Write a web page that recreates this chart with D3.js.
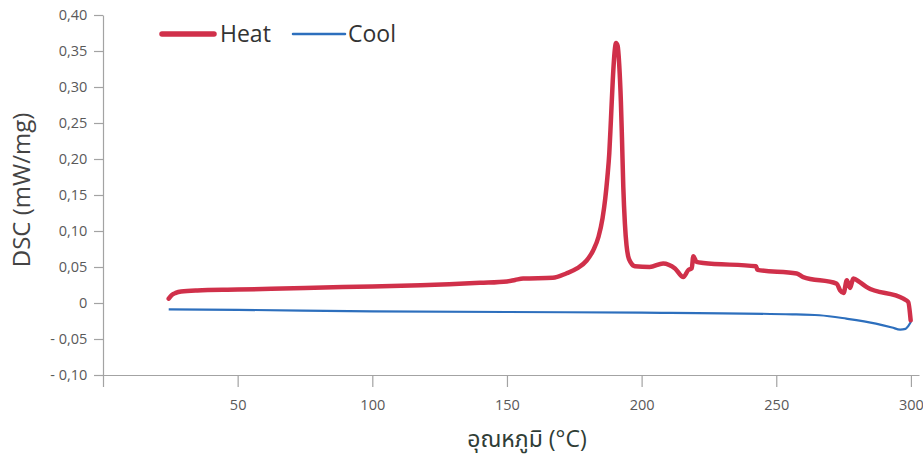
<!DOCTYPE html>
<html>
<head>
<meta charset="utf-8">
<script src="https://cdn.jsdelivr.net/npm/d3@7"></script>
<style>
    body { margin: 0; background: #fff; }
    svg text { font-family: "Open Sans", "Noto Sans", "Noto Sans Thai", sans-serif; }
</style>
</head>
<body>
<div id="chart"></div>
<script>
// Heat curve, temperature (°C) and DSC (mW/mg)
const heatTemp = [24.4, 25.5, 27, 29, 35, 50, 75, 100, 118, 140, 150, 153, 156, 167, 172, 176, 179.6, 182, 184,
    185.5, 186.5, 187.3, 188, 188.6, 189.3, 190, 190.5, 191.1, 191.7, 192.3, 192.7, 193.2, 193.8, 194.4, 195,
    196, 197.5, 203, 208, 212.4, 215.5, 217.4, 218.6, 219.2, 220.4, 222.9, 242.5, 243, 257.6, 260, 272.4, 273.7,
    275, 276.2, 277.4, 278.6, 281, 283.6, 297.2, 299, 299.9];
const heatDsc = [0.006, 0.011, 0.014, 0.016, 0.0175, 0.0186, 0.021, 0.023, 0.0246, 0.028, 0.030, 0.032, 0.034,
    0.035, 0.041, 0.048, 0.059, 0.073, 0.092, 0.118, 0.145, 0.175, 0.208, 0.254, 0.31, 0.35, 0.361, 0.357, 0.33,
    0.28, 0.23, 0.161, 0.11, 0.08, 0.065, 0.056, 0.051, 0.050, 0.055, 0.048, 0.036, 0.046, 0.048, 0.065, 0.057,
    0.0556, 0.051, 0.046, 0.041, 0.036, 0.027, 0.0176, 0.014, 0.0315, 0.021, 0.034, 0.029, 0.022, 0.006, 0.0014,
    -0.024];

// Cool curve
const coolTemp = [24.4, 50, 100, 150, 200, 256, 266, 276, 287, 293, 296, 298, 299, 300];
const coolDsc = [-0.0088, -0.0095, -0.0115, -0.0125, -0.0134, -0.0157, -0.017, -0.0217, -0.0286, -0.034,
    -0.037, -0.036, -0.032, -0.026];

const xTicks = [0, 50, 100, 150, 200, 250, 300];
const yTicks = [-0.10, -0.05, 0, 0.05, 0.10, 0.15, 0.20, 0.25, 0.30, 0.35, 0.40];
const seriesNames = ["Heat", "Cool"];

const width = 923, height = 463;
const axisColor = "#a3a3a3", textColor = "#595959";
const heatColor = "#d0304a", coolColor = "#2d6fbd";

const svg = d3.select("#chart").append("svg")
    .attr("width", width)
    .attr("height", height);

const x = d3.scaleLinear().domain([0, 303]).range([103, 919]);
const y = d3.scaleLinear().domain([-0.10, 0.40]).range([375, 15]);

const fmt = d3.format(".2f");
const yFormat = d => {
    if (Math.abs(d) < 1e-9) return "0";
    const s = fmt(Math.abs(d)).replace(".", ",");
    return d < 0 ? "- " + s : s;
};

// axes
const xAxis = d3.axisBottom(x).tickValues(xTicks).tickSize(12).tickSizeOuter(0)
    .tickFormat(d => d === 0 ? "" : d);
const yAxis = d3.axisLeft(y).tickValues(yTicks).tickSize(9).tickSizeOuter(0)
    .tickFormat(yFormat);

const gx = svg.append("g").attr("transform", `translate(0,${y(-0.10)})`).call(xAxis);
const gy = svg.append("g").attr("transform", `translate(${x(0)},0)`).call(yAxis);

[gx, gy].forEach(g => {
    g.selectAll(".domain, .tick line").attr("stroke", axisColor).attr("stroke-width", 1.2);
    g.selectAll("text").attr("fill", textColor).attr("font-size", 14.5);
});
gx.selectAll("text").attr("dy", "1.4em");
gy.selectAll("text").attr("dx", "-0.25em");

// lines
const line = d3.line().x(d => x(d[0])).y(d => y(d[1])).curve(d3.curveMonotoneX);

svg.append("path")
    .datum(coolTemp.map((t, i) => [t, coolDsc[i]]))
    .attr("fill", "none")
    .attr("stroke", coolColor)
    .attr("stroke-width", 2.2)
    .attr("d", line);

svg.append("path")
    .datum(heatTemp.map((t, i) => [t, heatDsc[i]]))
    .attr("fill", "none")
    .attr("stroke", heatColor)
    .attr("stroke-width", 4.5)
    .attr("stroke-linejoin", "round")
    .attr("stroke-linecap", "round")
    .attr("d", line);

// legend
const legend = [
    { name: seriesNames[0], color: heatColor, w: 5.5, x1: 162, x2: 214, tx: 220 },
    { name: seriesNames[1], color: coolColor, w: 2.5, x1: 293, x2: 345, tx: 348 }
];
const lg = svg.append("g");
lg.selectAll("line").data(legend).join("line")
    .attr("x1", d => d.x1).attr("x2", d => d.x2)
    .attr("y1", 34).attr("y2", 34)
    .attr("stroke", d => d.color)
    .attr("stroke-width", d => d.w)
    .attr("stroke-linecap", "round");
lg.selectAll("text").data(legend).join("text")
    .attr("x", d => d.tx).attr("y", 42)
    .attr("fill", "#333")
    .attr("font-size", 23)
    .text(d => d.name);

// axis titles
svg.append("text")
    .attr("transform", "translate(30,190) rotate(-90)")
    .attr("text-anchor", "middle")
    .attr("fill", "#444")
    .attr("font-size", 24)
    .text("DSC (mW/mg)");

svg.append("text")
    .attr("x", 527).attr("y", 447)
    .attr("text-anchor", "middle")
    .attr("fill", "#2f3d36")
    .attr("font-size", 23)
    .text("อุณหภูมิ (°C)");
</script>
</body>
</html>
